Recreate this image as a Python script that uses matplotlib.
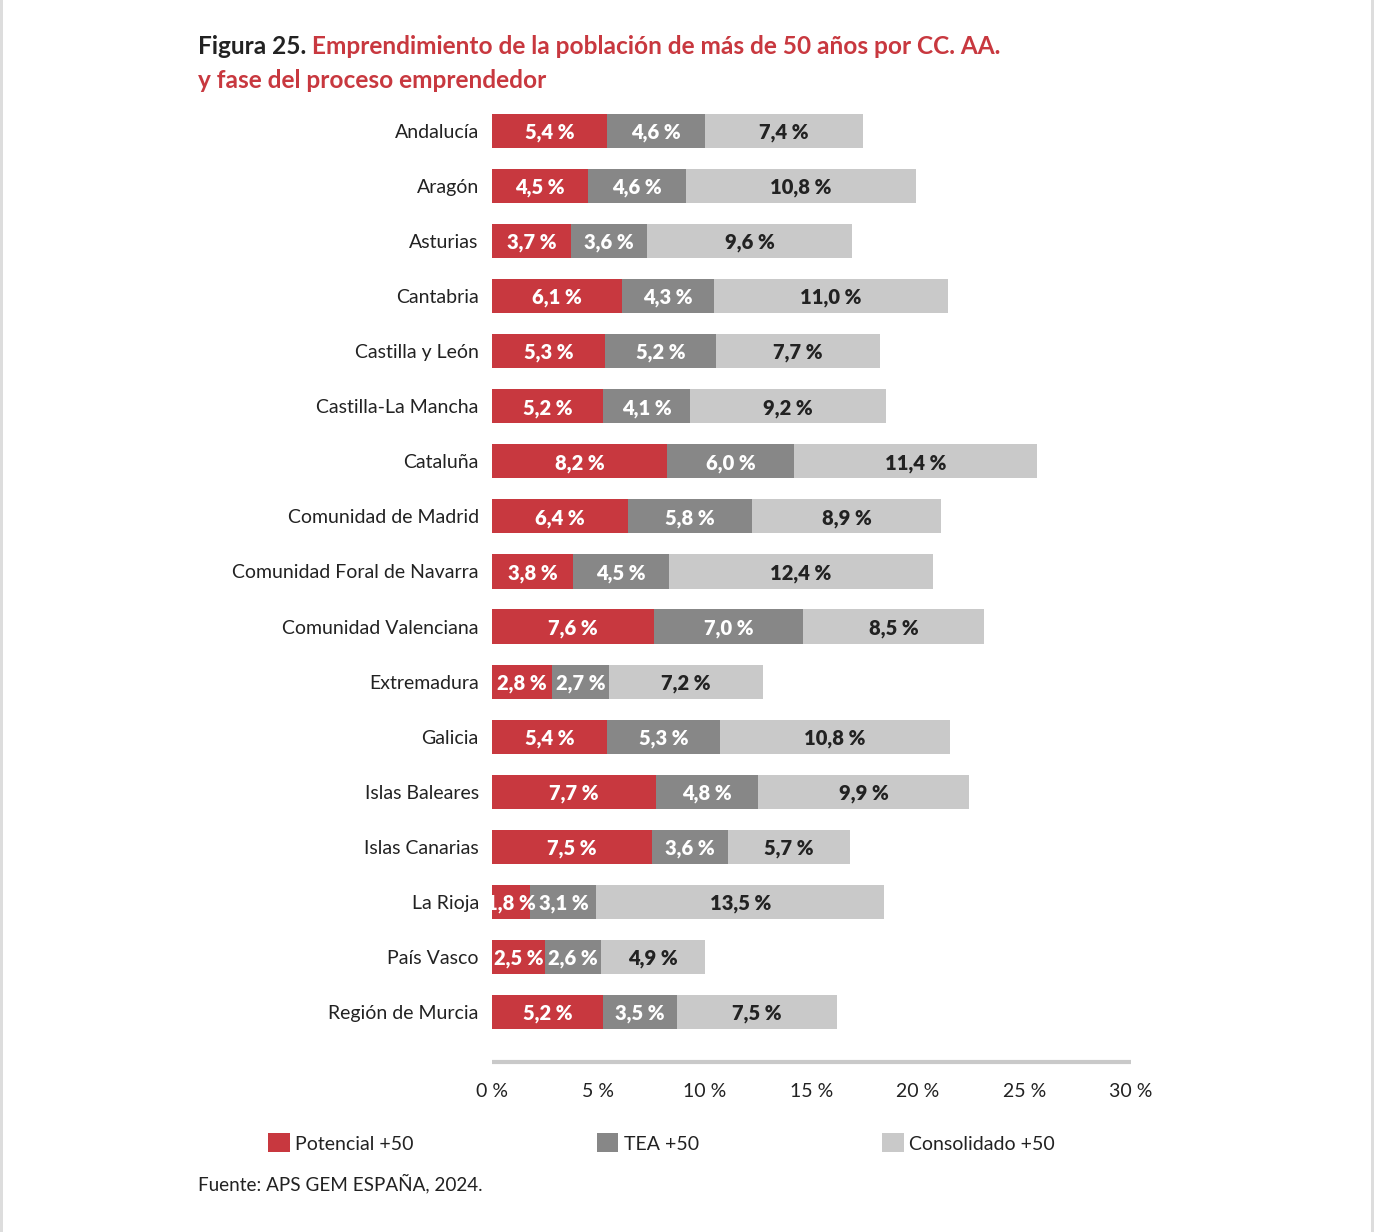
import numpy as np
import matplotlib.pyplot as plt
import matplotlib.patches as patches
import matplotlib as mpl

# Data
regiones = [
    "Andalucía", "Aragón", "Asturias", "Cantabria", "Castilla y León",
    "Castilla-La Mancha", "Cataluña", "Comunidad de Madrid",
    "Comunidad Foral de Navarra", "Comunidad Valenciana", "Extremadura",
    "Galicia", "Islas Baleares", "Islas Canarias", "La Rioja", "País Vasco",
    "Región de Murcia",
]
potencial = [5.4, 4.5, 3.7, 6.1, 5.3, 5.2, 8.2, 6.4, 3.8, 7.6, 2.8, 5.4, 7.7, 7.5, 1.8, 2.5, 5.2]
tea = [4.6, 4.6, 3.6, 4.3, 5.2, 4.1, 6.0, 5.8, 4.5, 7.0, 2.7, 5.3, 4.8, 3.6, 3.1, 2.6, 3.5]
consolidado = [7.4, 10.8, 9.6, 11.0, 7.7, 9.2, 11.4, 8.9, 12.4, 8.5, 7.2, 10.8, 9.9, 5.7, 13.5, 4.9, 7.5]
series = ["Potencial +50", "TEA +50", "Consolidado +50"]
xticks = [0, 5, 10, 15, 20, 25, 30]

ROJO = "#C8383F"
GRIS = "#878787"
CLARO = "#C9C9C9"
TEXTO = "#222222"

mpl.rcParams["font.family"] = ["Lato", "DejaVu Sans"]
mpl.rcParams["font.size"] = 14

W, H = 1374, 1232
fig = plt.figure(figsize=(W / 100, H / 100), dpi=100)
ax = fig.add_axes([492 / W, 1 - 1062 / H, 639 / W, (1062 - 103.5) / H])

y = np.arange(len(regiones))
left = np.zeros(len(regiones))
colores = [ROJO, GRIS, CLARO]
txt_col = ["white", "white", TEXTO]
for vals, nombre, c, tc in zip([potencial, tea, consolidado], series, colores, txt_col):
    bars = ax.barh(y, vals, left=left, height=0.62, color=c, label=nombre)
    labs = ax.bar_label(bars, labels=[f"{v:.1f} %".replace(".", ",") for v in vals],
                        label_type="center", color=tc, fontweight="heavy", fontsize=14.5)
    for t in labs:
        t.set_clip_on(False)
        t.set_va("center_baseline")
    left = left + np.array(vals)

ax.set_ylim(16.91, -0.5)
ax.set_xlim(0, 30)
ax.set_yticks(y)
ax.set_yticklabels(regiones, fontsize=14, color=TEXTO)
ax.set_xticks(xticks)
ax.set_xticklabels([f"{t} %" for t in xticks], fontsize=14, color=TEXTO)
ax.tick_params(axis="y", length=0, pad=9.5)
ax.tick_params(axis="x", length=0, pad=15)
for s in ["top", "right", "left"]:
    ax.spines[s].set_visible(False)
ax.spines["bottom"].set_color(CLARO)
ax.spines["bottom"].set_linewidth(3)
ax.spines["bottom"].set_capstyle("butt")

# Title
t1 = fig.text(198 / W, 1 - 46 / H, "Figura 25.", fontsize=17.6, fontweight="bold",
              color=TEXTO, va="center")
ax.annotate(" Emprendimiento de la población de más de 50 años por CC. AA.",
            xy=(1, 0.5), xycoords=t1, va="center", ha="left",
            fontsize=17.6, fontweight="bold", color=ROJO, annotation_clip=False)
fig.text(198 / W, 1 - 80 / H, "y fase del proceso emprendedor", fontsize=17.6,
         fontweight="bold", color=ROJO, va="center")

# Legend
handles = [patches.Patch(facecolor=c, edgecolor="none", label=n) for c, n in zip(colores, series)]
fig.legend(handles=handles, loc="center left", bbox_to_anchor=(268 / W, 1 - 1143 / H),
           ncol=3, frameon=False, fontsize=14, borderpad=0, borderaxespad=0,
           handlelength=1.13, handleheight=1.13, handletextpad=0.27, columnspacing=9.4,
           labelcolor=TEXTO)

fig.text(198 / W, 1 - 1184 / H, "Fuente: APS GEM ESPAÑA, 2024.", fontsize=13.6,
         color=TEXTO, va="center")

# thin page borders
fig.add_artist(patches.Rectangle((0, 0), 2.5 / W, 1, transform=fig.transFigure,
                                 facecolor="#DDDDDD", edgecolor="none"))
fig.add_artist(patches.Rectangle((1370.5 / W, 0), 3.5 / W, 1, transform=fig.transFigure,
                                 facecolor="#DDDDDD", edgecolor="none"))

fig.savefig("out.png", dpi=100, facecolor="white")
